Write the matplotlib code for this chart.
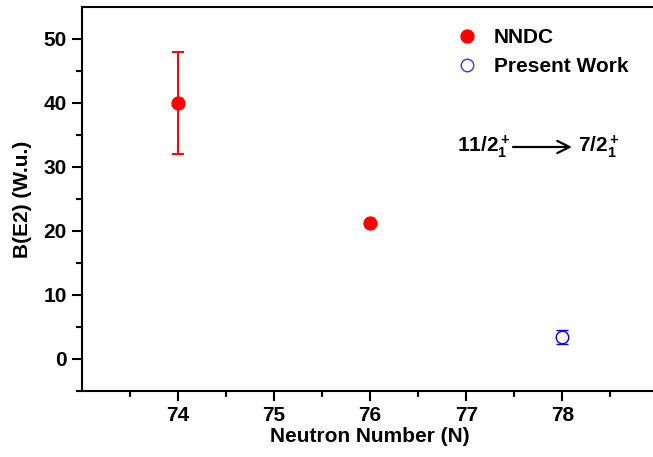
import matplotlib
matplotlib.use('Agg')
import matplotlib.pyplot as plt
from matplotlib.ticker import FixedLocator
from matplotlib.lines import Line2D

plt.rcParams['font.family'] = 'Liberation Sans'
plt.rcParams['font.weight'] = 'bold'
plt.rcParams['mathtext.fontset'] = 'custom'
plt.rcParams['mathtext.rm'] = 'Liberation Sans:bold'
plt.rcParams['mathtext.it'] = 'Liberation Sans:bold'
plt.rcParams['mathtext.bf'] = 'Liberation Sans:bold'

# data
nndc_n = [74, 76]
nndc_be2 = [40, 21.3]
nndc_err = [8, 0]
pw_n = [78]
pw_be2 = [3.4]
pw_err = [1.1]

x_major = [74, 75, 76, 77, 78]
x_minor = [73.5, 74.5, 75.5, 76.5, 77.5, 78.5]
y_major = [0, 10, 20, 30, 40, 50]
y_minor = [-5, 5, 15, 25, 35, 45]

W, H = 653, 457
fig = plt.figure(figsize=(W / 100, H / 100), dpi=100)
# right spine lies past the image edge, as in the reference
ax = fig.add_axes([81.5 / W, 66 / H, 577 / W, 384 / H])

ax.errorbar(nndc_n, nndc_be2, yerr=nndc_err, fmt='o', color='red', ms=9.3,
            capsize=4, elinewidth=1.4, capthick=1.4)
ax.errorbar(pw_n, pw_be2, yerr=pw_err, fmt='o', color='blue', mfc='white', ms=9.0,
            mew=1.0, capsize=4.5, elinewidth=1.4, capthick=2.2)

ax.set_xlim(73, 79)
ax.set_ylim(-5, 55)
ax.xaxis.set_major_locator(FixedLocator(x_major))
ax.xaxis.set_minor_locator(FixedLocator(x_minor))
ax.yaxis.set_major_locator(FixedLocator(y_major))
ax.yaxis.set_minor_locator(FixedLocator(y_minor))
ax.tick_params(which='major', direction='out', length=7, width=1.5, labelsize=15)
ax.tick_params(which='minor', direction='out', length=4, width=1.5)
for s in ax.spines.values():
    s.set_linewidth(1.5)
ax.spines['right'].set_visible(False)

ax.set_xlabel('Neutron Number (N)', fontsize=15, fontweight='bold', labelpad=2)
ax.set_ylabel('B(E2) (W.u.)', fontsize=15, fontweight='bold', labelpad=8)

handles = [
    Line2D([], [], ls='none', marker='o', color='red', ms=9.3),
    Line2D([], [], ls='none', marker='o', mec='#3333ff', mfc='white', ms=9.0, mew=1.0),
]
fig.legend(handles, ['NNDC', 'Present Work'], loc='upper left',
           bbox_to_anchor=(456.5 / W, 1 - 28 / H), frameon=False,
           fontsize=15, handlelength=1.0, handletextpad=0.8, labelspacing=0.5,
           borderpad=0, borderaxespad=0)

yt = 1 - 147 / H
fig.text(457 / W, yt, r'$11/2_1^+$', fontsize=15, va='center', ha='left')
fig.text(578 / W, yt, r'$7/2_1^+$', fontsize=15, va='center', ha='left')
ax.annotate('', xy=(572 / W, yt), xytext=(513 / W, yt),
            xycoords='figure fraction', textcoords='figure fraction',
            arrowprops=dict(arrowstyle='->', lw=1.6, color='black',
                            mutation_scale=22, shrinkA=0, shrinkB=0))

fig.savefig('out.png', dpi=100)
